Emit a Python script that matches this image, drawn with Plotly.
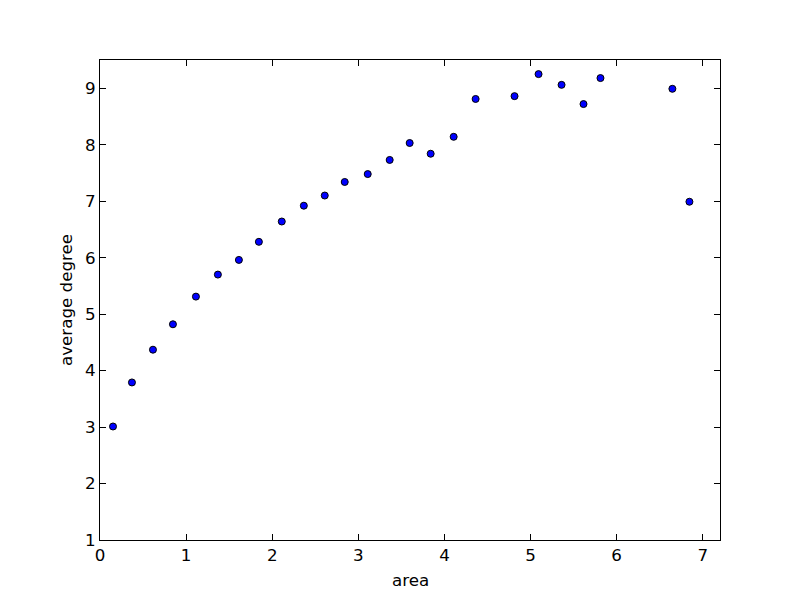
import plotly.graph_objects as go

area = [0.151, 0.371, 0.615, 0.847, 1.114, 1.369, 1.613, 1.845, 2.111, 2.367,
        2.610, 2.842, 3.109, 3.364, 3.596, 3.840, 4.107, 4.362, 4.814, 5.093,
        5.360, 5.615, 5.812, 6.647, 6.845]
avg_degree = [3.01, 3.79, 4.37, 4.82, 5.31, 5.70, 5.96, 6.28, 6.64, 6.92,
              7.10, 7.34, 7.48, 7.73, 8.03, 7.84, 8.14, 8.81, 8.86, 9.25,
              9.06, 8.72, 9.18, 8.99, 6.99]
x_ticks = [0, 1, 2, 3, 4, 5, 6, 7]
y_ticks = [1, 2, 3, 4, 5, 6, 7, 8, 9]

FONT = "DejaVu Sans"
FS = 16.7

fig = go.Figure(go.Scatter(
    x=area, y=avg_degree, mode="markers",
    marker=dict(color="#0000ff", size=7, line=dict(color="black", width=1)),
))

axis_common = dict(
    showgrid=False, zeroline=False, showline=True, linecolor="black", linewidth=1,
    mirror="ticks", ticks="inside", ticklen=6, tickwidth=1, tickcolor="black",
    tickfont=dict(family=FONT, size=FS, color="black"),
    automargin=False,
)

# page body has an 8px offset; plot area lands at 100..720 x 60..540 on screen
fig.update_layout(
    width=800, height=600,
    margin=dict(l=92, r=88, t=52, b=68),
    plot_bgcolor="white", paper_bgcolor="white",
    showlegend=False,
    font=dict(family=FONT, size=FS, color="black"),
    xaxis=dict(range=[0, 7.2], tickvals=x_ticks, **axis_common),
    yaxis=dict(range=[1, 9.5], tickvals=y_ticks, **axis_common),
    annotations=[
        dict(text="area", xref="paper", yref="paper", x=0.5, y=-39.5 / 480,
             xanchor="center", yanchor="middle", showarrow=False,
             font=dict(family=FONT, size=FS, color="black")),
        dict(text="average degree", xref="paper", yref="paper", x=-34 / 620, y=0.5,
             xanchor="center", yanchor="middle", showarrow=False, textangle=-90,
             font=dict(family=FONT, size=FS, color="black")),
    ],
)

fig.write_html("out.html")
